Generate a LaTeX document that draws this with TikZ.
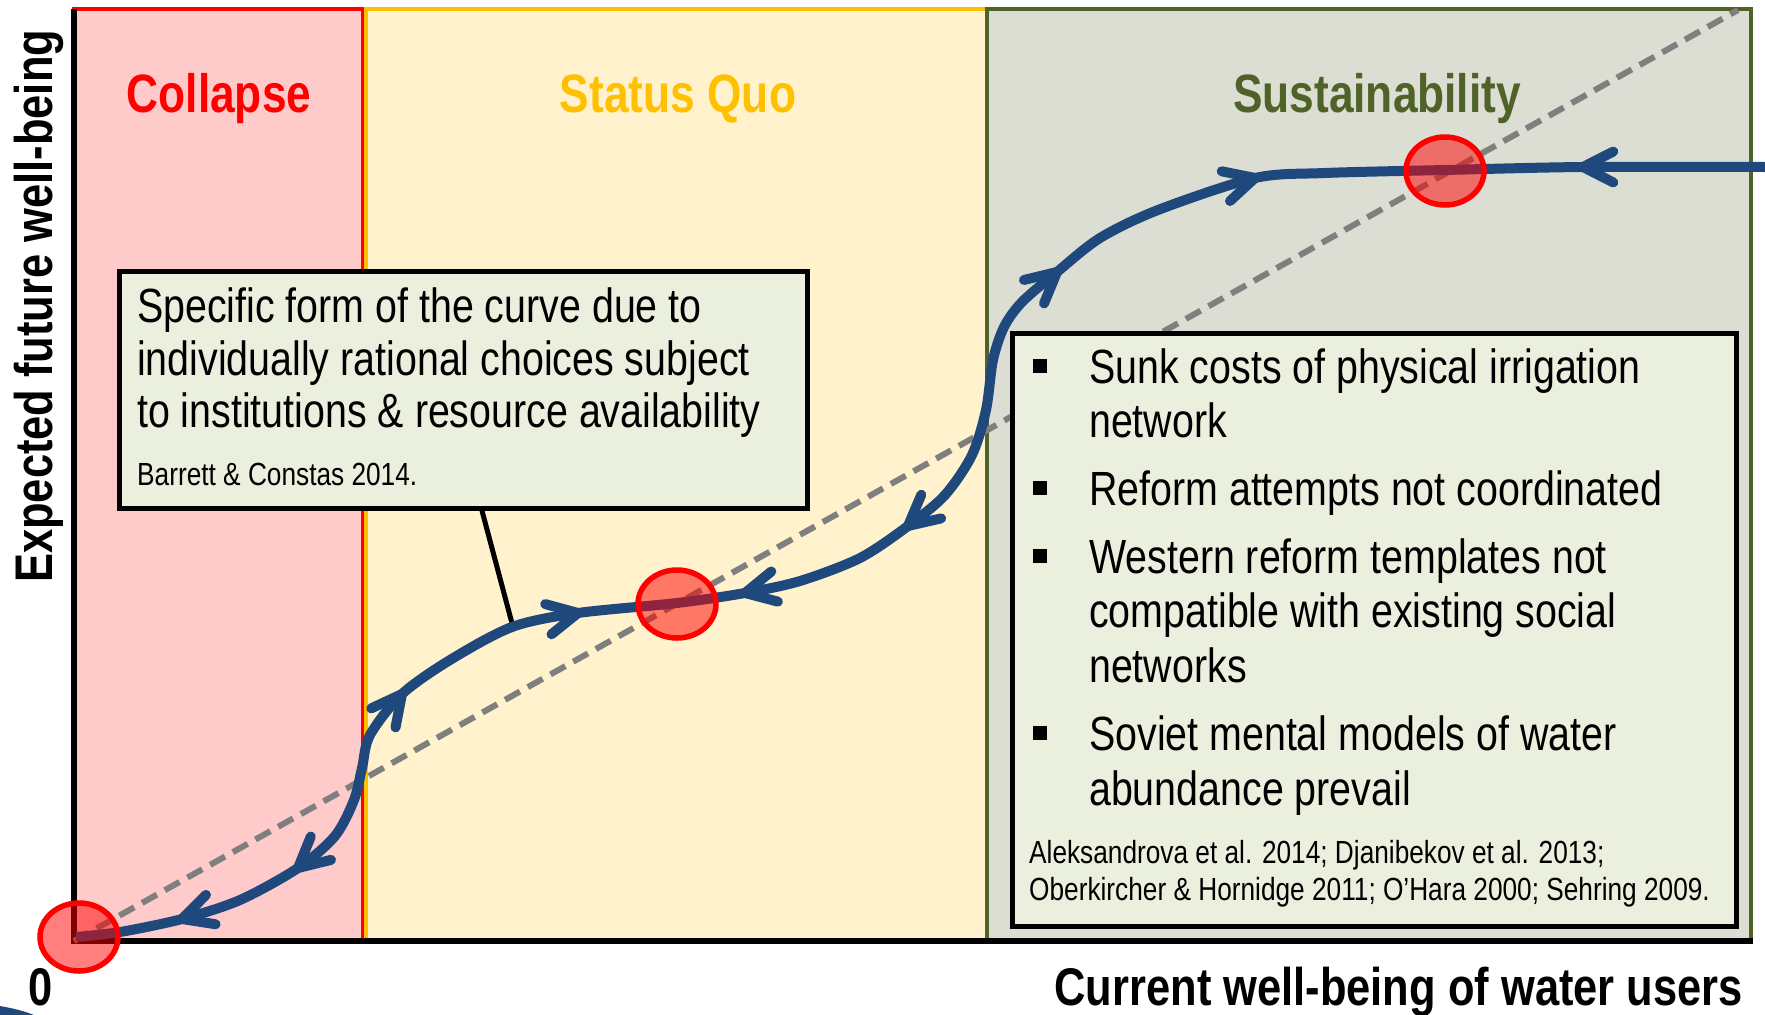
\documentclass[tikz,border=0pt]{standalone}
\usepackage{fontspec}
\setmainfont[FakeStretch=0.82]{Liberation Sans}
\usetikzlibrary{calc,shapes.geometric}

\definecolor{wblue}{HTML}{1F497D}
\definecolor{collapsefill}{HTML}{FFCACA}
\definecolor{statusfill}{HTML}{FFF2CC}
\definecolor{sustfill}{HTML}{DCDED3}
\definecolor{boxfill}{HTML}{EBF0DE}
\definecolor{gold}{HTML}{FFC000}
\definecolor{olive}{HTML}{4F6228}
\definecolor{diaggray}{HTML}{7F7F7F}

\tikzset{
  region/.style={line width=4pt},
  axisline/.style={draw=black, line width=5.5pt, line join=miter},
  diag/.style={draw=diaggray, line width=6pt, dash pattern=on 17pt off 9pt},
  infobox/.style={draw=black, line width=4.5pt, fill=boxfill, inner sep=0pt},
  pathline/.style={draw=wblue, line width=10pt},
  chevron/.style={draw=wblue, line width=10pt, line cap=round, line join=round},
  eq/.style={ellipse, draw=red, line width=5.5pt, fill=red, fill opacity=0.5,
    minimum width=78pt, minimum height=68pt, inner sep=0pt},
  heading/.style={inner sep=0pt, anchor=base, font=\fontsize{54}{60}\selectfont\bfseries},
  axislabel/.style={inner sep=0pt, font=\fontsize{53}{60}\selectfont\bfseries},
  bodytext/.style={inner sep=0pt, anchor=base west, font=\fontsize{48}{53}\selectfont},
  reftext/.style={inner sep=0pt, anchor=base west, font=\fontsize{32}{37}\selectfont},
  bulletsq/.style={fill=black, inner sep=0pt, minimum size=14pt},
  pointer/.style={draw=black, line width=5pt}
}

\begin{document}
\begin{tikzpicture}[x=1pt,y=-1pt]
\useasboundingbox (0,0) rectangle (1765,1015);

% three regimes
\draw[region, fill=collapsefill, draw=red] (74,9) rectangle (363,941);
\draw[region, fill=statusfill, draw=gold] (366,9) rectangle (987,941);
\draw[region, fill=sustfill, draw=olive] (987,9) rectangle (1751,941);

% axes
\coordinate (O) at (74,941);
\coordinate (Ytop) at (74,9);
\coordinate (Xend) at (1753,941);
\draw[axisline] (Ytop) -- (O) -- (Xend);

% 45-degree reference line
\coordinate (TR) at (1738,10);
\draw[diag] (O) -- (TR);

% stray blue shape in the lower left corner
\fill[wblue] (0,1006) .. controls (12,1008) and (24,1011) .. (34,1015) -- (0,1015) -- cycle;

% explanatory boxes
\node[infobox, anchor=north west, minimum width=688pt, minimum height=237pt] (cbox) at (117,269) {};
\node[infobox, anchor=north west, minimum width=724pt, minimum height=593pt] (fbox) at (1010,331) {};

% pointer from the left box to the curve
\coordinate (ptr) at (513,627);
\draw[pointer] ($(cbox.south west)!0.527!(cbox.south east)$) -- (ptr);

% well-being curve
\draw[pathline] plot[smooth, tension=0.5] coordinates {
  (76,937) (120,932) (182,919) (240,900) (298,868) (335,836) (354,800)
  (362,768) (370,735) (402,694) (450,660) (512,627) (578,613) (677,603)
  (745,593) (800,581) (860,558) (908,526) (945,495) (972,455) (986,410)
  (993,360) (1004,327) (1022,302) (1057,272) (1100,238) (1158,210)
  (1255,178) (1325,173) (1445,170) (1583,167) (1765,167)};

% direction chevrons: tip / point behind the tip
\foreach \tx/\ty/\bx/\by [count=\i] in {
  182/919/240/900, 298/868/335/836, 402/694/370/735, 578/613/530/623,
  745/593/800/581, 908/526/945/495, 1057/272/1022/302, 1255/178/1205/192,
  1583/167/1630/167}{
  \coordinate (tip\i) at (\tx,\ty);
  \coordinate (back\i) at (\bx,\by);
  \draw[chevron] ($(tip\i)!34pt!27:(back\i)$) -- (tip\i) -- ($(tip\i)!34pt!-27:(back\i)$);
}

% equilibria
\node[eq] (eq1) at (79,937) {};
\node[eq] (eq2) at (677,604) {};
\node[eq] (eq3) at (1445,171) {};

% regime headings
\node[heading, text=red] (hcollapse) at (219,112) {Collapse};
\node[heading, text=gold] (hstatus) at (678,112) {Status Quo};
\node[heading, text=olive] (hsust) at (1377,112) {Sustainability};

% axis labels
\node[axislabel, rotate=90, anchor=base west] (ylab) at (52,583) {Expected future well-being};
\node[axislabel, anchor=base east] (xlab) at (1743,1005) {Current well-being of water users};
\node[axislabel, anchor=base] (zero) at (41,1005) {0};

% left box text
\node[bodytext] (c1) at (137,322) {Specific form of the curve due to};
\node[bodytext] (c2) at (137,375) {individually rational choices subject};
\node[bodytext] (c3) at (137,427) {to institutions \& resource availability};
\node[reftext] (c4) at (137,485) {Barrett \& Constas 2014.};

% right box bullets
\node[bulletsq] (b1) at (1040,366) {};
\node[bulletsq] (b2) at (1040,488) {};
\node[bulletsq] (b3) at (1040,556) {};
\node[bulletsq] (b4) at (1040,733) {};
\node[bodytext] (f1) at (1089,383) {Sunk costs of physical irrigation};
\node[bodytext] (f2) at (1089,437) {network};
\node[bodytext] (f3) at (1089,505) {Reform attempts not coordinated};
\node[bodytext] (f4) at (1089,573) {Western reform templates not};
\node[bodytext] (f5) at (1089,627) {compatible with existing social};
\node[bodytext] (f6) at (1089,682) {networks};
\node[bodytext] (f7) at (1089,750) {Soviet mental models of water};
\node[bodytext] (f8) at (1089,805) {abundance prevail};
\node[reftext] (r1) at (1029,863) {Aleksandrova et al. 2014; Djanibekov et al. 2013;};
\node[reftext] (r2) at (1029,900) {Oberkircher \& Hornidge 2011; O’Hara 2000; Sehring 2009.};

\end{tikzpicture}
\end{document}
